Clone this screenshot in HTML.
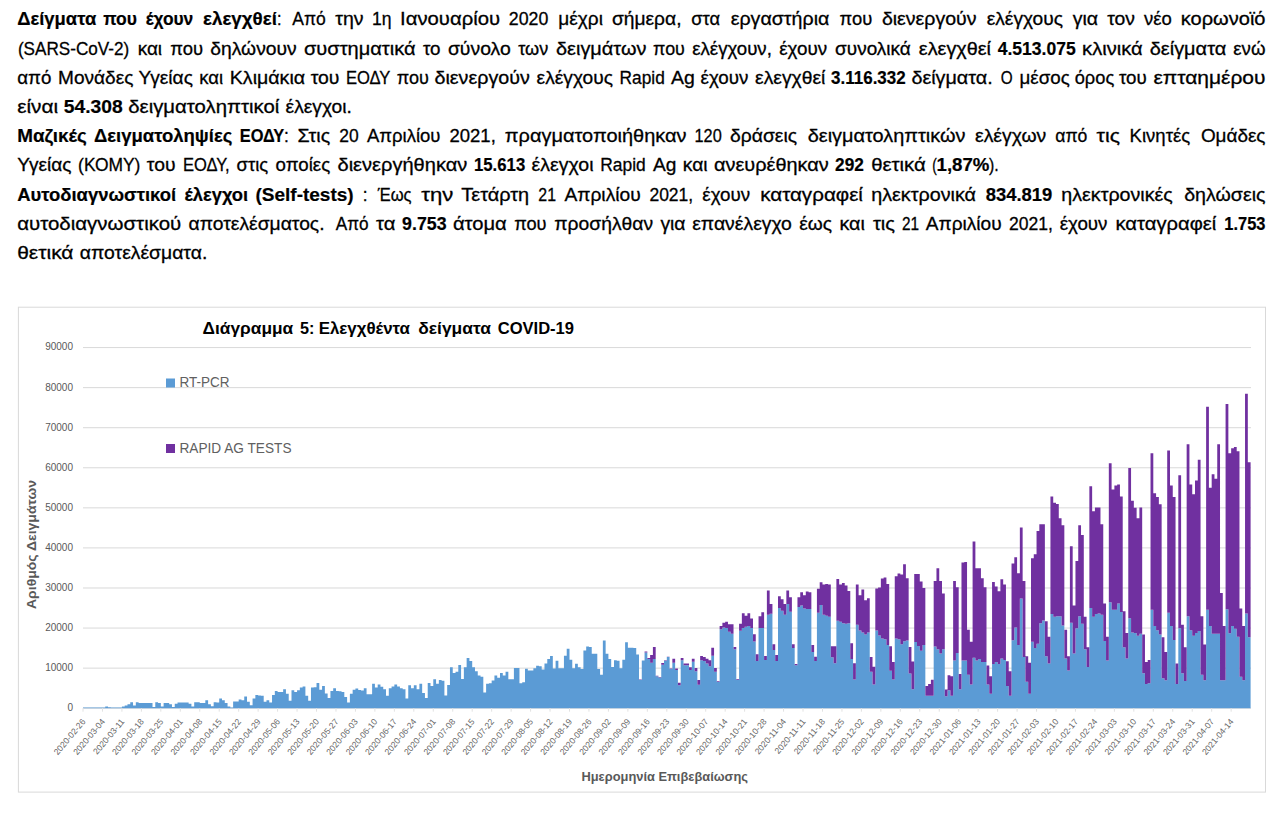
<!DOCTYPE html>
<html><head><meta charset="utf-8"><title>doc</title>
<style>
html,body{margin:0;padding:0;background:#fff;}
body{width:1285px;height:816px;position:relative;overflow:hidden;font-family:"Liberation Sans",sans-serif;color:#000;}
svg{position:absolute;left:0;top:0;}
svg text{font-family:"Liberation Sans",sans-serif;}
</style></head><body>
<svg width="1285" height="816" viewBox="0 0 1285 816">
<rect x="18.4" y="307.2" width="1247.1" height="484.9" fill="#fff" stroke="#d9d9d9" stroke-width="1"/>
<g stroke="#000" stroke-width="0.3" fill="#000">
<text x="17.2" y="25.4" font-size="19" font-weight="bold" stroke-width="0.2" textLength="79.1" lengthAdjust="spacingAndGlyphs">Δείγματα</text>
<text x="103.2" y="25.4" font-size="19" font-weight="bold" stroke-width="0.2" textLength="33.8" lengthAdjust="spacingAndGlyphs">που</text>
<text x="145.7" y="25.4" font-size="19" font-weight="bold" stroke-width="0.2" textLength="47.6" lengthAdjust="spacingAndGlyphs">έχουν</text>
<text x="203.0" y="25.4" font-size="19" font-weight="bold" stroke-width="0.2" textLength="73.9" lengthAdjust="spacingAndGlyphs">ελεγχθεί</text>
<text x="276.9" y="25.4" font-size="19" textLength="4.5" lengthAdjust="spacingAndGlyphs">:</text>
<text x="292.3" y="25.4" font-size="19" textLength="33.5" lengthAdjust="spacingAndGlyphs">Από</text>
<text x="335.2" y="25.4" font-size="19" textLength="28.3" lengthAdjust="spacingAndGlyphs">την</text>
<text x="372.0" y="25.4" font-size="19" textLength="19.5" lengthAdjust="spacingAndGlyphs">1η</text>
<text x="400.1" y="25.4" font-size="19" textLength="100.0" lengthAdjust="spacingAndGlyphs">Ιανουαρίου</text>
<text x="508.8" y="25.4" font-size="19" textLength="39.5" lengthAdjust="spacingAndGlyphs">2020</text>
<text x="558.3" y="25.4" font-size="19" textLength="44.6" lengthAdjust="spacingAndGlyphs">μέχρι</text>
<text x="611.9" y="25.4" font-size="19" textLength="69.6" lengthAdjust="spacingAndGlyphs">σήμερα,</text>
<text x="691.2" y="25.4" font-size="19" textLength="28.8" lengthAdjust="spacingAndGlyphs">στα</text>
<text x="730.7" y="25.4" font-size="19" textLength="98.7" lengthAdjust="spacingAndGlyphs">εργαστήρια</text>
<text x="839.5" y="25.4" font-size="19" textLength="32.7" lengthAdjust="spacingAndGlyphs">που</text>
<text x="881.9" y="25.4" font-size="19" textLength="94.7" lengthAdjust="spacingAndGlyphs">διενεργούν</text>
<text x="986.7" y="25.4" font-size="19" textLength="76.3" lengthAdjust="spacingAndGlyphs">ελέγχους</text>
<text x="1072.7" y="25.4" font-size="19" textLength="25.4" lengthAdjust="spacingAndGlyphs">για</text>
<text x="1107.2" y="25.4" font-size="19" textLength="27.8" lengthAdjust="spacingAndGlyphs">τον</text>
<text x="1144.0" y="25.4" font-size="19" textLength="27.8" lengthAdjust="spacingAndGlyphs">νέο</text>
<text x="1180.8" y="25.4" font-size="19" textLength="84.7" lengthAdjust="spacingAndGlyphs">κορωνοϊό</text>
<text x="17.9" y="54.6" font-size="19" textLength="111.4" lengthAdjust="spacingAndGlyphs">(SARS-CoV-2)</text>
<text x="137.7" y="54.6" font-size="19" textLength="24.4" lengthAdjust="spacingAndGlyphs">και</text>
<text x="170.2" y="54.6" font-size="19" textLength="32.8" lengthAdjust="spacingAndGlyphs">που</text>
<text x="210.3" y="54.6" font-size="19" textLength="86.4" lengthAdjust="spacingAndGlyphs">δηλώνουν</text>
<text x="304.0" y="54.6" font-size="19" textLength="111.5" lengthAdjust="spacingAndGlyphs">συστηματικά</text>
<text x="422.9" y="54.6" font-size="19" textLength="17.6" lengthAdjust="spacingAndGlyphs">το</text>
<text x="447.9" y="54.6" font-size="19" textLength="62.9" lengthAdjust="spacingAndGlyphs">σύνολο</text>
<text x="518.2" y="54.6" font-size="19" textLength="30.1" lengthAdjust="spacingAndGlyphs">των</text>
<text x="556.0" y="54.6" font-size="19" textLength="90.4" lengthAdjust="spacingAndGlyphs">δειγμάτων</text>
<text x="653.1" y="54.6" font-size="19" textLength="31.8" lengthAdjust="spacingAndGlyphs">που</text>
<text x="692.2" y="54.6" font-size="19" textLength="79.7" lengthAdjust="spacingAndGlyphs">ελέγχουν,</text>
<text x="779.2" y="54.6" font-size="19" textLength="47.9" lengthAdjust="spacingAndGlyphs">έχουν</text>
<text x="835.1" y="54.6" font-size="19" textLength="75.6" lengthAdjust="spacingAndGlyphs">συνολικά</text>
<text x="918.8" y="54.6" font-size="19" textLength="72.2" lengthAdjust="spacingAndGlyphs">ελεγχθεί</text>
<text x="997.7" y="54.6" font-size="19" font-weight="bold" stroke-width="0.2" textLength="78.0" lengthAdjust="spacingAndGlyphs">4.513.075</text>
<text x="1082.1" y="54.6" font-size="19" textLength="60.5" lengthAdjust="spacingAndGlyphs">κλινικά</text>
<text x="1149.7" y="54.6" font-size="19" textLength="76.6" lengthAdjust="spacingAndGlyphs">δείγματα</text>
<text x="1233.3" y="54.6" font-size="19" textLength="32.2" lengthAdjust="spacingAndGlyphs">ενώ</text>
<text x="17.2" y="83.8" font-size="19" textLength="34.2" lengthAdjust="spacingAndGlyphs">από</text>
<text x="58.1" y="83.8" font-size="19" textLength="75.3" lengthAdjust="spacingAndGlyphs">Μονάδες</text>
<text x="138.4" y="83.8" font-size="19" textLength="54.5" lengthAdjust="spacingAndGlyphs">Υγείας</text>
<text x="199.3" y="83.8" font-size="19" textLength="23.8" lengthAdjust="spacingAndGlyphs">και</text>
<text x="229.8" y="83.8" font-size="19" textLength="75.3" lengthAdjust="spacingAndGlyphs">Κλιμάκια</text>
<text x="310.7" y="83.8" font-size="19" textLength="28.8" lengthAdjust="spacingAndGlyphs">του</text>
<text x="345.9" y="83.8" font-size="19" textLength="44.5" lengthAdjust="spacingAndGlyphs">ΕΟΔΥ</text>
<text x="396.8" y="83.8" font-size="19" textLength="32.1" lengthAdjust="spacingAndGlyphs">που</text>
<text x="434.5" y="83.8" font-size="19" textLength="95.4" lengthAdjust="spacingAndGlyphs">διενεργούν</text>
<text x="536.6" y="83.8" font-size="19" textLength="76.3" lengthAdjust="spacingAndGlyphs">ελέγχους</text>
<text x="619.6" y="83.8" font-size="19" textLength="45.2" lengthAdjust="spacingAndGlyphs">Rapid</text>
<text x="671.1" y="83.8" font-size="19" textLength="23.8" lengthAdjust="spacingAndGlyphs">Ag</text>
<text x="700.6" y="83.8" font-size="19" textLength="47.8" lengthAdjust="spacingAndGlyphs">έχουν</text>
<text x="755.1" y="83.8" font-size="19" textLength="70.3" lengthAdjust="spacingAndGlyphs">ελεγχθεί</text>
<text x="831.1" y="83.8" font-size="19" font-weight="bold" stroke-width="0.2" textLength="74.6" lengthAdjust="spacingAndGlyphs">3.116.332</text>
<text x="911.4" y="83.8" font-size="19" textLength="81.3" lengthAdjust="spacingAndGlyphs">δείγματα.</text>
<text x="1000.8" y="83.8" font-size="19" textLength="11.9" lengthAdjust="spacingAndGlyphs">Ο</text>
<text x="1019.5" y="83.8" font-size="19" textLength="50.2" lengthAdjust="spacingAndGlyphs">μέσος</text>
<text x="1074.7" y="83.8" font-size="19" textLength="39.5" lengthAdjust="spacingAndGlyphs">όρος</text>
<text x="1118.9" y="83.8" font-size="19" textLength="27.8" lengthAdjust="spacingAndGlyphs">του</text>
<text x="1153.4" y="83.8" font-size="19" textLength="112.1" lengthAdjust="spacingAndGlyphs">επταημέρου</text>
<text x="17.2" y="113.0" font-size="19" textLength="40.9" lengthAdjust="spacingAndGlyphs">είναι</text>
<text x="63.8" y="113.0" font-size="19" font-weight="bold" stroke-width="0.2" textLength="58.9" lengthAdjust="spacingAndGlyphs">54.308</text>
<text x="128.3" y="113.0" font-size="19" textLength="151.0" lengthAdjust="spacingAndGlyphs">δειγματοληπτικοί</text>
<text x="285.6" y="113.0" font-size="19" textLength="66.3" lengthAdjust="spacingAndGlyphs">έλεγχοι.</text>
<text x="17.2" y="142.2" font-size="19" font-weight="bold" stroke-width="0.2" textLength="69.6" lengthAdjust="spacingAndGlyphs">Μαζικές</text>
<text x="93.9" y="142.2" font-size="19" font-weight="bold" stroke-width="0.2" textLength="138.5" lengthAdjust="spacingAndGlyphs">Δειγματοληψίες</text>
<text x="239.8" y="142.2" font-size="19" font-weight="bold" stroke-width="0.2" textLength="44.5" lengthAdjust="spacingAndGlyphs">ΕΟΔΥ</text>
<text x="284.1" y="142.2" font-size="19" textLength="4.8" lengthAdjust="spacingAndGlyphs">:</text>
<text x="297.4" y="142.2" font-size="19" textLength="32.8" lengthAdjust="spacingAndGlyphs">Στις</text>
<text x="339.2" y="142.2" font-size="19" textLength="19.4" lengthAdjust="spacingAndGlyphs">20</text>
<text x="367.0" y="142.2" font-size="19" textLength="73.5" lengthAdjust="spacingAndGlyphs">Απριλίου</text>
<text x="449.5" y="142.2" font-size="19" textLength="46.3" lengthAdjust="spacingAndGlyphs">2021,</text>
<text x="504.8" y="142.2" font-size="19" textLength="181.7" lengthAdjust="spacingAndGlyphs">πραγματοποιήθηκαν</text>
<text x="694.5" y="142.2" font-size="19" textLength="27.2" lengthAdjust="spacingAndGlyphs">120</text>
<text x="730.0" y="142.2" font-size="19" textLength="67.0" lengthAdjust="spacingAndGlyphs">δράσεις</text>
<text x="807.7" y="142.2" font-size="19" textLength="157.8" lengthAdjust="spacingAndGlyphs">δειγματοληπτικών</text>
<text x="975.0" y="142.2" font-size="19" textLength="71.3" lengthAdjust="spacingAndGlyphs">ελέγχων</text>
<text x="1055.3" y="142.2" font-size="19" textLength="32.1" lengthAdjust="spacingAndGlyphs">από</text>
<text x="1096.5" y="142.2" font-size="19" textLength="23.4" lengthAdjust="spacingAndGlyphs">τις</text>
<text x="1129.6" y="142.2" font-size="19" textLength="60.6" lengthAdjust="spacingAndGlyphs">Κινητές</text>
<text x="1200.9" y="142.2" font-size="19" textLength="64.6" lengthAdjust="spacingAndGlyphs">Ομάδες</text>
<text x="17.2" y="171.4" font-size="19" textLength="54.3" lengthAdjust="spacingAndGlyphs">Υγείας</text>
<text x="78.1" y="171.4" font-size="19" textLength="62.3" lengthAdjust="spacingAndGlyphs">(ΚΟΜΥ)</text>
<text x="146.8" y="171.4" font-size="19" textLength="28.7" lengthAdjust="spacingAndGlyphs">του</text>
<text x="182.9" y="171.4" font-size="19" textLength="46.8" lengthAdjust="spacingAndGlyphs">ΕΟΔΥ,</text>
<text x="236.5" y="171.4" font-size="19" textLength="31.7" lengthAdjust="spacingAndGlyphs">στις</text>
<text x="275.6" y="171.4" font-size="19" textLength="54.6" lengthAdjust="spacingAndGlyphs">οποίες</text>
<text x="337.5" y="171.4" font-size="19" textLength="129.8" lengthAdjust="spacingAndGlyphs">διενεργήθηκαν</text>
<text x="474.0" y="171.4" font-size="19" font-weight="bold" stroke-width="0.2" textLength="51.2" lengthAdjust="spacingAndGlyphs">15.613</text>
<text x="531.6" y="171.4" font-size="19" textLength="61.9" lengthAdjust="spacingAndGlyphs">έλεγχοι</text>
<text x="600.2" y="171.4" font-size="19" textLength="45.5" lengthAdjust="spacingAndGlyphs">Rapid</text>
<text x="653.1" y="171.4" font-size="19" textLength="23.4" lengthAdjust="spacingAndGlyphs">Ag</text>
<text x="682.8" y="171.4" font-size="19" textLength="24.8" lengthAdjust="spacingAndGlyphs">και</text>
<text x="714.0" y="171.4" font-size="19" textLength="114.8" lengthAdjust="spacingAndGlyphs">ανευρέθηκαν</text>
<text x="835.1" y="171.4" font-size="19" font-weight="bold" stroke-width="0.2" textLength="28.8" lengthAdjust="spacingAndGlyphs">292</text>
<text x="871.2" y="171.4" font-size="19" textLength="54.6" lengthAdjust="spacingAndGlyphs">θετικά</text>
<text x="932.2" y="171.4" font-size="19" textLength="4.5" lengthAdjust="spacingAndGlyphs">(</text>
<text x="936.5" y="171.4" font-size="19" font-weight="bold" stroke-width="0.2" textLength="52.9" lengthAdjust="spacingAndGlyphs">1,87%</text>
<text x="989.0" y="171.4" font-size="19" textLength="9.7" lengthAdjust="spacingAndGlyphs">).</text>
<text x="17.2" y="200.6" font-size="19" font-weight="bold" stroke-width="0.2" textLength="159.0" lengthAdjust="spacingAndGlyphs">Αυτοδιαγνωστικοί</text>
<text x="184.5" y="200.6" font-size="19" font-weight="bold" stroke-width="0.2" textLength="63.7" lengthAdjust="spacingAndGlyphs">έλεγχοι</text>
<text x="255.5" y="200.6" font-size="19" font-weight="bold" stroke-width="0.2" textLength="98.1" lengthAdjust="spacingAndGlyphs">(Self-tests)</text>
<text x="362.7" y="200.6" font-size="19" textLength="4.8" lengthAdjust="spacingAndGlyphs">:</text>
<text x="377.7" y="200.6" font-size="19" textLength="33.8" lengthAdjust="spacingAndGlyphs">Έως</text>
<text x="421.2" y="200.6" font-size="19" textLength="32.1" lengthAdjust="spacingAndGlyphs">την</text>
<text x="461.3" y="200.6" font-size="19" textLength="67.9" lengthAdjust="spacingAndGlyphs">Τετάρτη</text>
<text x="538.3" y="200.6" font-size="19" textLength="17.7" lengthAdjust="spacingAndGlyphs">21</text>
<text x="564.4" y="200.6" font-size="19" textLength="76.3" lengthAdjust="spacingAndGlyphs">Απριλίου</text>
<text x="649.4" y="200.6" font-size="19" textLength="43.8" lengthAdjust="spacingAndGlyphs">2021,</text>
<text x="702.3" y="200.6" font-size="19" textLength="47.8" lengthAdjust="spacingAndGlyphs">έχουν</text>
<text x="760.2" y="200.6" font-size="19" textLength="102.7" lengthAdjust="spacingAndGlyphs">καταγραφεί</text>
<text x="871.2" y="200.6" font-size="19" textLength="104.8" lengthAdjust="spacingAndGlyphs">ηλεκτρονικά</text>
<text x="985.7" y="200.6" font-size="19" font-weight="bold" stroke-width="0.2" textLength="66.6" lengthAdjust="spacingAndGlyphs">834.819</text>
<text x="1061.3" y="200.6" font-size="19" textLength="111.5" lengthAdjust="spacingAndGlyphs">ηλεκτρονικές</text>
<text x="1184.2" y="200.6" font-size="19" textLength="81.3" lengthAdjust="spacingAndGlyphs">δηλώσεις</text>
<text x="17.2" y="229.8" font-size="19" textLength="164.0" lengthAdjust="spacingAndGlyphs">αυτοδιαγνωστικού</text>
<text x="188.6" y="229.8" font-size="19" textLength="135.9" lengthAdjust="spacingAndGlyphs">αποτελέσματος.</text>
<text x="335.8" y="229.8" font-size="19" textLength="32.8" lengthAdjust="spacingAndGlyphs">Από</text>
<text x="376.0" y="229.8" font-size="19" textLength="19.4" lengthAdjust="spacingAndGlyphs">τα</text>
<text x="402.1" y="229.8" font-size="19" font-weight="bold" stroke-width="0.2" textLength="44.4" lengthAdjust="spacingAndGlyphs">9.753</text>
<text x="452.9" y="229.8" font-size="19" textLength="53.9" lengthAdjust="spacingAndGlyphs">άτομα</text>
<text x="514.2" y="229.8" font-size="19" textLength="32.4" lengthAdjust="spacingAndGlyphs">που</text>
<text x="554.3" y="229.8" font-size="19" textLength="98.8" lengthAdjust="spacingAndGlyphs">προσήλθαν</text>
<text x="660.4" y="229.8" font-size="19" textLength="25.1" lengthAdjust="spacingAndGlyphs">για</text>
<text x="692.2" y="229.8" font-size="19" textLength="99.7" lengthAdjust="spacingAndGlyphs">επανέλεγχο</text>
<text x="799.3" y="229.8" font-size="19" textLength="32.8" lengthAdjust="spacingAndGlyphs">έως</text>
<text x="839.5" y="229.8" font-size="19" textLength="25.4" lengthAdjust="spacingAndGlyphs">και</text>
<text x="872.9" y="229.8" font-size="19" textLength="22.1" lengthAdjust="spacingAndGlyphs">τις</text>
<text x="902.0" y="229.8" font-size="19" textLength="17.1" lengthAdjust="spacingAndGlyphs">21</text>
<text x="925.8" y="229.8" font-size="19" textLength="75.9" lengthAdjust="spacingAndGlyphs">Απριλίου</text>
<text x="1009.1" y="229.8" font-size="19" textLength="43.9" lengthAdjust="spacingAndGlyphs">2021,</text>
<text x="1059.7" y="229.8" font-size="19" textLength="47.8" lengthAdjust="spacingAndGlyphs">έχουν</text>
<text x="1115.5" y="229.8" font-size="19" textLength="100.8" lengthAdjust="spacingAndGlyphs">καταγραφεί</text>
<text x="1224.3" y="229.8" font-size="19" font-weight="bold" stroke-width="0.2" textLength="41.2" lengthAdjust="spacingAndGlyphs">1.753</text>
<text x="17.2" y="259.0" font-size="19" textLength="56.3" lengthAdjust="spacingAndGlyphs">θετικά</text>
<text x="79.8" y="259.0" font-size="19" textLength="127.5" lengthAdjust="spacingAndGlyphs">αποτελέσματα.</text>
</g>
<line x1="83" x2="1251" y1="708.20" y2="708.20" stroke="#d9d9d9" stroke-width="1"/>
<text x="73" y="711.10" font-size="10" fill="#595959" text-anchor="end">0</text>
<line x1="83" x2="1251" y1="668.13" y2="668.13" stroke="#d9d9d9" stroke-width="1"/>
<text x="73" y="671.03" font-size="10" fill="#595959" text-anchor="end">10000</text>
<line x1="83" x2="1251" y1="628.06" y2="628.06" stroke="#d9d9d9" stroke-width="1"/>
<text x="73" y="630.96" font-size="10" fill="#595959" text-anchor="end">20000</text>
<line x1="83" x2="1251" y1="587.99" y2="587.99" stroke="#d9d9d9" stroke-width="1"/>
<text x="73" y="590.89" font-size="10" fill="#595959" text-anchor="end">30000</text>
<line x1="83" x2="1251" y1="547.92" y2="547.92" stroke="#d9d9d9" stroke-width="1"/>
<text x="73" y="550.82" font-size="10" fill="#595959" text-anchor="end">40000</text>
<line x1="83" x2="1251" y1="507.85" y2="507.85" stroke="#d9d9d9" stroke-width="1"/>
<text x="73" y="510.75" font-size="10" fill="#595959" text-anchor="end">50000</text>
<line x1="83" x2="1251" y1="467.78" y2="467.78" stroke="#d9d9d9" stroke-width="1"/>
<text x="73" y="470.68" font-size="10" fill="#595959" text-anchor="end">60000</text>
<line x1="83" x2="1251" y1="427.71" y2="427.71" stroke="#d9d9d9" stroke-width="1"/>
<text x="73" y="430.61" font-size="10" fill="#595959" text-anchor="end">70000</text>
<line x1="83" x2="1251" y1="387.64" y2="387.64" stroke="#d9d9d9" stroke-width="1"/>
<text x="73" y="390.54" font-size="10" fill="#595959" text-anchor="end">80000</text>
<line x1="83" x2="1251" y1="347.57" y2="347.57" stroke="#d9d9d9" stroke-width="1"/>
<text x="73" y="350.47" font-size="10" fill="#595959" text-anchor="end">90000</text>
<text x="202.6" y="334.2" font-size="16" font-weight="bold" fill="#000" textLength="90.6" lengthAdjust="spacingAndGlyphs">Διάγραμμα</text>
<text x="300.0" y="334.2" font-size="16" font-weight="bold" fill="#000" textLength="14.4" lengthAdjust="spacingAndGlyphs">5:</text>
<text x="318.7" y="334.2" font-size="16" font-weight="bold" fill="#000" textLength="91.3" lengthAdjust="spacingAndGlyphs">Ελεγχθέντα</text>
<text x="418.3" y="334.2" font-size="16" font-weight="bold" fill="#000" textLength="72.6" lengthAdjust="spacingAndGlyphs">δείγματα</text>
<text x="497.7" y="334.2" font-size="16" font-weight="bold" fill="#000" textLength="76.3" lengthAdjust="spacingAndGlyphs">COVID-19</text>
<rect x="166" y="378.5" width="9" height="9" fill="#5b9bd5"/>
<text x="179.5" y="387.4" font-size="15" fill="#606060" textLength="50" lengthAdjust="spacingAndGlyphs">RT-PCR</text>
<rect x="166" y="444" width="9" height="9" fill="#7030a0"/>
<text x="179.5" y="452.8" font-size="15" fill="#606060" textLength="112" lengthAdjust="spacingAndGlyphs">RAPID AG TESTS</text>
<text transform="translate(35.5,544.5) rotate(-90)" font-size="12" font-weight="bold" fill="#595959" text-anchor="middle" textLength="129" lengthAdjust="spacingAndGlyphs">Αριθμός Δειγμάτων</text>
<text x="664.7" y="780.8" font-size="12" font-weight="bold" fill="#595959" text-anchor="middle" textLength="166.5" lengthAdjust="spacingAndGlyphs">Ημερομηνία Επιβεβαίωσης</text>
<path d="M83.00 708.20V707.60h2.78V708.20zM85.78 708.20V707.60h2.78V708.20zM88.56 708.20V707.60h2.78V708.20zM91.34 708.20V707.60h2.78V708.20zM94.12 708.20V707.60h2.78V708.20zM96.90 708.20V707.60h2.78V708.20zM99.68 708.20V707.60h2.78V708.20zM102.46 708.20V707.40h2.78V708.20zM105.24 708.20V706.60h2.78V708.20zM108.02 708.20V707.20h2.78V708.20zM110.80 708.20V707.60h2.78V708.20zM113.58 708.20V707.60h2.78V708.20zM116.36 708.20V707.60h2.78V708.20zM119.14 708.20V707.40h2.78V708.20zM121.92 708.20V706.60h2.78V708.20zM124.70 708.20V705.40h2.78V708.20zM127.48 708.20V704.19h2.78V708.20zM130.26 708.20V702.19h2.78V708.20zM133.04 708.20V705.40h2.78V708.20zM135.82 708.20V702.19h2.78V708.20zM138.60 708.20V702.99h2.78V708.20zM141.38 708.20V702.99h2.78V708.20zM144.16 708.20V702.99h2.78V708.20zM146.94 708.20V702.99h2.78V708.20zM149.72 708.20V702.99h2.78V708.20zM152.50 708.20V707.00h2.78V708.20zM155.28 708.20V702.19h2.78V708.20zM158.06 708.20V702.99h2.78V708.20zM160.84 708.20V706.60h2.78V708.20zM163.62 708.20V702.99h2.78V708.20zM166.40 708.20V702.99h2.78V708.20zM169.18 708.20V704.19h2.78V708.20zM171.96 708.20V707.00h2.78V708.20zM174.74 708.20V703.79h2.78V708.20zM177.52 708.20V702.59h2.78V708.20zM180.30 708.20V702.59h2.78V708.20zM183.08 708.20V702.59h2.78V708.20zM185.86 708.20V702.59h2.78V708.20zM188.64 708.20V703.79h2.78V708.20zM191.42 708.20V706.60h2.78V708.20zM194.20 708.20V702.19h2.78V708.20zM196.98 708.20V702.19h2.78V708.20zM199.76 708.20V702.99h2.78V708.20zM202.54 708.20V702.99h2.78V708.20zM205.32 708.20V700.19h2.78V708.20zM208.10 708.20V704.19h2.78V708.20zM210.88 708.20V706.20h2.78V708.20zM213.66 708.20V702.19h2.78V708.20zM216.44 708.20V702.39h2.78V708.20zM219.22 708.20V698.58h2.78V708.20zM222.00 708.20V700.19h2.78V708.20zM224.78 708.20V702.99h2.78V708.20zM227.56 708.20V706.40h2.78V708.20zM230.34 708.20V707.40h2.78V708.20zM233.12 708.20V701.39h2.78V708.20zM235.90 708.20V701.39h2.78V708.20zM238.68 708.20V699.38h2.78V708.20zM241.46 708.20V700.19h2.78V708.20zM244.24 708.20V696.58h2.78V708.20zM247.02 708.20V701.79h2.78V708.20zM249.80 708.20V705.19h2.78V708.20zM252.58 708.20V698.58h2.78V708.20zM255.36 708.20V694.98h2.78V708.20zM258.14 708.20V695.58h2.78V708.20zM260.92 708.20V695.78h2.78V708.20zM263.70 708.20V701.79h2.78V708.20zM266.48 708.20V700.19h2.78V708.20zM269.26 708.20V702.39h2.78V708.20zM272.04 708.20V694.98h2.78V708.20zM274.82 708.20V690.97h2.78V708.20zM277.60 708.20V691.97h2.78V708.20zM280.38 708.20V691.97h2.78V708.20zM283.16 708.20V689.37h2.78V708.20zM285.94 708.20V693.77h2.78V708.20zM288.72 708.20V700.79h2.78V708.20zM291.50 708.20V690.17h2.78V708.20zM294.28 708.20V691.97h2.78V708.20zM297.06 708.20V690.37h2.78V708.20zM299.84 708.20V687.56h2.78V708.20zM302.62 708.20V686.56h2.78V708.20zM305.40 708.20V695.78h2.78V708.20zM308.18 708.20V700.79h2.78V708.20zM310.96 708.20V687.56h2.78V708.20zM313.74 708.20V687.36h2.78V708.20zM316.52 708.20V682.96h2.78V708.20zM319.30 708.20V689.77h2.78V708.20zM322.08 708.20V685.96h2.78V708.20zM324.86 708.20V693.57h2.78V708.20zM327.64 708.20V697.98h2.78V708.20zM330.42 708.20V690.97h2.78V708.20zM333.20 708.20V688.17h2.78V708.20zM335.98 708.20V690.97h2.78V708.20zM338.76 708.20V691.17h2.78V708.20zM341.54 708.20V691.97h2.78V708.20zM344.32 708.20V696.98h2.78V708.20zM347.10 708.20V702.39h2.78V708.20zM349.88 708.20V693.77h2.78V708.20zM352.66 708.20V689.77h2.78V708.20zM355.44 708.20V688.57h2.78V708.20zM358.22 708.20V689.97h2.78V708.20zM361.00 708.20V690.57h2.78V708.20zM363.78 708.20V688.17h2.78V708.20zM366.56 708.20V694.18h2.78V708.20zM369.34 708.20V694.18h2.78V708.20zM372.12 708.20V683.76h2.78V708.20zM374.90 708.20V687.56h2.78V708.20zM377.68 708.20V684.56h2.78V708.20zM380.46 708.20V686.76h2.78V708.20zM383.24 708.20V689.37h2.78V708.20zM386.02 708.20V695.78h2.78V708.20zM388.80 708.20V688.17h2.78V708.20zM391.58 708.20V686.56h2.78V708.20zM394.36 708.20V684.56h2.78V708.20zM397.14 708.20V686.56h2.78V708.20zM399.92 708.20V688.17h2.78V708.20zM402.70 708.20V689.37h2.78V708.20zM405.48 708.20V698.58h2.78V708.20zM408.26 708.20V685.36h2.78V708.20zM411.04 708.20V688.17h2.78V708.20zM413.82 708.20V685.36h2.78V708.20zM416.60 708.20V689.37h2.78V708.20zM419.38 708.20V683.76h2.78V708.20zM422.16 708.20V692.97h2.78V708.20zM424.94 708.20V697.98h2.78V708.20zM427.72 708.20V682.96h2.78V708.20zM430.50 708.20V685.96h2.78V708.20zM433.28 708.20V679.15h2.78V708.20zM436.06 708.20V683.76h2.78V708.20zM438.84 708.20V679.95h2.78V708.20zM441.62 708.20V680.75h2.78V708.20zM444.40 708.20V695.38h2.78V708.20zM447.18 708.20V684.96h2.78V708.20zM449.96 708.20V667.13h2.78V708.20zM452.74 708.20V672.94h2.78V708.20zM455.52 708.20V671.74h2.78V708.20zM458.30 708.20V665.12h2.78V708.20zM461.08 708.20V678.95h2.78V708.20zM463.86 708.20V667.33h2.78V708.20zM466.64 708.20V658.11h2.78V708.20zM469.42 708.20V660.92h2.78V708.20zM472.20 708.20V667.33h2.78V708.20zM474.98 708.20V671.14h2.78V708.20zM477.76 708.20V675.54h2.78V708.20zM480.54 708.20V676.75h2.78V708.20zM483.32 708.20V692.57h2.78V708.20zM486.10 708.20V683.76h2.78V708.20zM488.88 708.20V683.36h2.78V708.20zM491.66 708.20V680.55h2.78V708.20zM494.44 708.20V675.54h2.78V708.20zM497.22 708.20V677.75h2.78V708.20zM500.00 708.20V672.94h2.78V708.20zM502.78 708.20V675.54h2.78V708.20zM505.56 708.20V671.74h2.78V708.20zM508.34 708.20V679.35h2.78V708.20zM511.12 708.20V679.35h2.78V708.20zM513.90 708.20V667.93h2.78V708.20zM516.68 708.20V667.93h2.78V708.20zM519.46 708.20V683.36h2.78V708.20zM522.24 708.20V682.35h2.78V708.20zM525.02 708.20V668.73h2.78V708.20zM527.80 708.20V670.53h2.78V708.20zM530.58 708.20V670.53h2.78V708.20zM533.36 708.20V668.13h2.78V708.20zM536.14 708.20V665.73h2.78V708.20zM538.92 708.20V666.33h2.78V708.20zM541.70 708.20V669.53h2.78V708.20zM544.48 708.20V663.52h2.78V708.20zM547.26 708.20V659.11h2.78V708.20zM550.04 708.20V656.11h2.78V708.20zM552.82 708.20V668.53h2.78V708.20zM555.60 708.20V660.72h2.78V708.20zM558.38 708.20V668.13h2.78V708.20zM561.16 708.20V668.13h2.78V708.20zM563.94 708.20V655.71h2.78V708.20zM566.72 708.20V648.70h2.78V708.20zM569.50 708.20V659.72h2.78V708.20zM572.28 708.20V668.13h2.78V708.20zM575.06 708.20V663.72h2.78V708.20zM577.84 708.20V667.33h2.78V708.20zM580.62 708.20V668.93h2.78V708.20zM583.40 708.20V650.50h2.78V708.20zM586.18 708.20V646.49h2.78V708.20zM588.96 708.20V647.09h2.78V708.20zM591.74 708.20V653.70h2.78V708.20zM594.52 708.20V653.70h2.78V708.20zM597.30 708.20V668.93h2.78V708.20zM600.08 708.20V674.74h2.78V708.20zM602.86 708.20V640.48h2.78V708.20zM605.64 708.20V653.70h2.78V708.20zM608.42 708.20V659.11h2.78V708.20zM611.20 708.20V666.93h2.78V708.20zM613.98 708.20V660.32h2.78V708.20zM616.76 708.20V660.72h2.78V708.20zM619.54 708.20V668.13h2.78V708.20zM622.32 708.20V659.72h2.78V708.20zM625.10 708.20V642.28h2.78V708.20zM627.88 708.20V647.69h2.78V708.20zM630.66 708.20V647.69h2.78V708.20zM633.44 708.20V648.10h2.78V708.20zM636.22 708.20V654.51h2.78V708.20zM639.00 708.20V679.95h2.78V708.20zM641.78 708.20V660.52h2.78V708.20zM644.56 708.20V652.50h2.78V708.20zM647.34 708.20V658.91h2.78V708.20zM650.12 708.20V662.72h2.78V708.20zM652.90 708.20V658.91h2.78V708.20zM655.68 708.20V676.34h2.78V708.20zM658.46 708.20V677.55h2.78V708.20zM661.24 708.20V664.72h2.78V708.20zM664.02 708.20V660.72h2.78V708.20zM666.80 708.20V657.11h2.78V708.20zM669.58 708.20V668.93h2.78V708.20zM672.36 708.20V662.72h2.78V708.20zM675.14 708.20V669.93h2.78V708.20zM677.92 708.20V685.36h2.78V708.20zM680.70 708.20V660.32h2.78V708.20zM683.48 708.20V665.33h2.78V708.20zM686.26 708.20V665.33h2.78V708.20zM689.04 708.20V669.93h2.78V708.20zM691.82 708.20V661.72h2.78V708.20zM694.60 708.20V671.14h2.78V708.20zM697.38 708.20V684.76h2.78V708.20zM700.16 708.20V660.32h2.78V708.20zM702.94 708.20V660.92h2.78V708.20zM705.72 708.20V663.52h2.78V708.20zM708.50 708.20V666.13h2.78V708.20zM711.28 708.20V655.71h2.78V708.20zM714.06 708.20V671.74h2.78V708.20zM716.84 708.20V681.95h2.78V708.20zM719.62 708.20V629.26h2.78V708.20zM722.40 708.20V627.46h2.78V708.20zM725.18 708.20V628.06h2.78V708.20zM727.96 708.20V631.87h2.78V708.20zM730.74 708.20V633.87h2.78V708.20zM733.52 708.20V649.30h2.78V708.20zM736.30 708.20V679.75h2.78V708.20zM739.08 708.20V630.66h2.78V708.20zM741.86 708.20V628.06h2.78V708.20zM744.64 708.20V626.86h2.78V708.20zM747.42 708.20V626.06h2.78V708.20zM750.20 708.20V628.06h2.78V708.20zM752.98 708.20V641.48h2.78V708.20zM755.76 708.20V660.92h2.78V708.20zM758.54 708.20V628.06h2.78V708.20zM761.32 708.20V628.06h2.78V708.20zM764.10 708.20V659.92h2.78V708.20zM766.88 708.20V614.84h2.78V708.20zM769.66 708.20V613.84h2.78V708.20zM772.44 708.20V650.10h2.78V708.20zM775.22 708.20V660.92h2.78V708.20zM778.00 708.20V608.03h2.78V708.20zM780.78 708.20V610.83h2.78V708.20zM783.56 708.20V614.84h2.78V708.20zM786.34 708.20V604.02h2.78V708.20zM789.12 708.20V611.83h2.78V708.20zM791.90 708.20V648.10h2.78V708.20zM794.68 708.20V665.33h2.78V708.20zM797.46 708.20V607.02h2.78V708.20zM800.24 708.20V605.62h2.78V708.20zM803.02 708.20V608.43h2.78V708.20zM805.80 708.20V609.03h2.78V708.20zM808.58 708.20V609.03h2.78V708.20zM811.36 708.20V652.10h2.78V708.20zM814.14 708.20V660.92h2.78V708.20zM816.92 708.20V612.83h2.78V708.20zM819.70 708.20V605.02h2.78V708.20zM822.48 708.20V614.84h2.78V708.20zM825.26 708.20V615.84h2.78V708.20zM828.04 708.20V616.84h2.78V708.20zM830.82 708.20V657.31h2.78V708.20zM833.60 708.20V663.32h2.78V708.20zM836.38 708.20V620.65h2.78V708.20zM839.16 708.20V621.65h2.78V708.20zM841.94 708.20V623.25h2.78V708.20zM844.72 708.20V623.65h2.78V708.20zM847.50 708.20V623.25h2.78V708.20zM850.28 708.20V658.91h2.78V708.20zM853.06 708.20V679.55h2.78V708.20zM855.84 708.20V624.65h2.78V708.20zM858.62 708.20V630.46h2.78V708.20zM861.40 708.20V632.47h2.78V708.20zM864.18 708.20V634.47h2.78V708.20zM866.96 708.20V632.47h2.78V708.20zM869.74 708.20V671.74h2.78V708.20zM872.52 708.20V684.56h2.78V708.20zM875.30 708.20V630.46h2.78V708.20zM878.08 708.20V635.47h2.78V708.20zM880.86 708.20V638.48h2.78V708.20zM883.64 708.20V639.28h2.78V708.20zM886.42 708.20V644.89h2.78V708.20zM889.20 708.20V670.73h2.78V708.20zM891.98 708.20V679.55h2.78V708.20zM894.76 708.20V638.48h2.78V708.20zM897.54 708.20V639.28h2.78V708.20zM900.32 708.20V644.29h2.78V708.20zM903.10 708.20V641.28h2.78V708.20zM905.88 708.20V640.48h2.78V708.20zM908.66 708.20V673.54h2.78V708.20zM911.44 708.20V689.17h2.78V708.20zM914.22 708.20V642.08h2.78V708.20zM917.00 708.20V645.89h2.78V708.20zM919.78 708.20V650.70h2.78V708.20zM922.56 708.20V645.09h2.78V708.20zM925.34 708.20V695.78h2.78V708.20zM928.12 708.20V695.78h2.78V708.20zM930.90 708.20V695.78h2.78V708.20zM933.68 708.20V646.49h2.78V708.20zM936.46 708.20V649.30h2.78V708.20zM939.24 708.20V653.50h2.78V708.20zM942.02 708.20V649.30h2.78V708.20zM944.80 708.20V696.18h2.78V708.20zM947.58 708.20V690.17h2.78V708.20zM950.36 708.20V695.78h2.78V708.20zM953.14 708.20V660.52h2.78V708.20zM955.92 708.20V652.90h2.78V708.20zM958.70 708.20V689.17h2.78V708.20zM961.48 708.20V660.52h2.78V708.20zM964.26 708.20V660.52h2.78V708.20zM967.04 708.20V674.74h2.78V708.20zM969.82 708.20V684.56h2.78V708.20zM972.60 708.20V657.71h2.78V708.20zM975.38 708.20V660.52h2.78V708.20zM978.16 708.20V659.11h2.78V708.20zM980.94 708.20V662.12h2.78V708.20zM983.72 708.20V662.12h2.78V708.20zM986.50 708.20V684.56h2.78V708.20zM989.28 708.20V693.77h2.78V708.20zM992.06 708.20V664.12h2.78V708.20zM994.84 708.20V662.12h2.78V708.20zM997.62 708.20V664.12h2.78V708.20zM1000.40 708.20V658.51h2.78V708.20zM1003.18 708.20V659.92h2.78V708.20zM1005.96 708.20V685.96h2.78V708.20zM1008.74 708.20V695.78h2.78V708.20zM1011.52 708.20V640.28h2.78V708.20zM1014.30 708.20V627.46h2.78V708.20zM1017.08 708.20V645.09h2.78V708.20zM1019.86 708.20V598.61h2.78V708.20zM1022.64 708.20V657.11h2.78V708.20zM1025.42 708.20V681.75h2.78V708.20zM1028.20 708.20V693.77h2.78V708.20zM1030.98 708.20V641.68h2.78V708.20zM1033.76 708.20V647.89h2.78V708.20zM1036.54 708.20V643.69h2.78V708.20zM1039.32 708.20V623.25h2.78V708.20zM1042.10 708.20V620.45h2.78V708.20zM1044.88 708.20V656.31h2.78V708.20zM1047.66 708.20V663.52h2.78V708.20zM1050.44 708.20V614.04h2.78V708.20zM1053.22 708.20V616.84h2.78V708.20zM1056.00 708.20V616.24h2.78V708.20zM1058.78 708.20V616.24h2.78V708.20zM1061.56 708.20V625.46h2.78V708.20zM1064.34 708.20V658.51h2.78V708.20zM1067.12 708.20V670.53h2.78V708.20zM1069.90 708.20V622.65h2.78V708.20zM1072.68 708.20V653.50h2.78V708.20zM1075.46 708.20V628.26h2.78V708.20zM1078.24 708.20V616.24h2.78V708.20zM1081.02 708.20V623.65h2.78V708.20zM1083.80 708.20V649.30h2.78V708.20zM1086.58 708.20V666.93h2.78V708.20zM1089.36 708.20V608.03h2.78V708.20zM1092.14 708.20V616.84h2.78V708.20zM1094.92 708.20V614.04h2.78V708.20zM1097.70 708.20V613.43h2.78V708.20zM1100.48 708.20V614.84h2.78V708.20zM1103.26 708.20V640.88h2.78V708.20zM1106.04 708.20V660.52h2.78V708.20zM1108.82 708.20V602.21h2.78V708.20zM1111.60 708.20V609.83h2.78V708.20zM1114.38 708.20V609.83h2.78V708.20zM1117.16 708.20V603.62h2.78V708.20zM1119.94 708.20V612.03h2.78V708.20zM1122.72 708.20V647.29h2.78V708.20zM1125.50 708.20V658.51h2.78V708.20zM1128.28 708.20V618.24h2.78V708.20zM1131.06 708.20V632.47h2.78V708.20zM1133.84 708.20V633.07h2.78V708.20zM1136.62 708.20V635.87h2.78V708.20zM1139.40 708.20V633.87h2.78V708.20zM1142.18 708.20V673.34h2.78V708.20zM1144.96 708.20V683.96h2.78V708.20zM1147.74 708.20V683.16h2.78V708.20zM1150.52 708.20V609.63h2.78V708.20zM1153.30 708.20V626.06h2.78V708.20zM1156.08 708.20V630.26h2.78V708.20zM1158.86 708.20V634.47h2.78V708.20zM1161.64 708.20V678.15h2.78V708.20zM1164.42 708.20V680.35h2.78V708.20zM1167.20 708.20V612.63h2.78V708.20zM1169.98 708.20V626.06h2.78V708.20zM1172.76 708.20V640.08h2.78V708.20zM1175.54 708.20V683.96h2.78V708.20zM1178.32 708.20V628.26h2.78V708.20zM1181.10 708.20V673.34h2.78V708.20zM1183.88 708.20V680.95h2.78V708.20zM1186.66 708.20V616.24h2.78V708.20zM1189.44 708.20V630.26h2.78V708.20zM1192.22 708.20V635.87h2.78V708.20zM1195.00 708.20V633.07h2.78V708.20zM1197.78 708.20V631.07h2.78V708.20zM1200.56 708.20V674.74h2.78V708.20zM1203.34 708.20V680.35h2.78V708.20zM1206.12 708.20V609.63h2.78V708.20zM1208.90 708.20V626.06h2.78V708.20zM1211.68 708.20V633.87h2.78V708.20zM1214.46 708.20V633.87h2.78V708.20zM1217.24 708.20V633.87h2.78V708.20zM1220.02 708.20V680.35h2.78V708.20zM1222.80 708.20V680.35h2.78V708.20zM1225.58 708.20V609.23h2.78V708.20zM1228.36 708.20V633.27h2.78V708.20zM1231.14 708.20V626.06h2.78V708.20zM1233.92 708.20V628.86h2.78V708.20zM1236.70 708.20V636.68h2.78V708.20zM1239.48 708.20V676.75h2.78V708.20zM1242.26 708.20V680.35h2.78V708.20zM1245.04 708.20V613.43h2.78V708.20zM1247.82 708.20V637.28h2.78V708.20z" fill="#5b9bd5"/>
<path d="M639.00 679.95V679.55h2.78V679.95zM644.56 652.50V651.50h2.78V652.50zM647.34 658.91V657.91h2.78V658.91zM650.12 662.72V655.11h2.78V662.72zM652.90 658.91V646.89h2.78V658.91zM655.68 676.34V675.74h2.78V676.34zM658.46 677.55V676.95h2.78V677.55zM661.24 664.72V663.12h2.78V664.72zM664.02 660.72V660.32h2.78V660.72zM666.80 657.11V656.71h2.78V657.11zM669.58 668.93V668.53h2.78V668.93zM672.36 662.72V658.71h2.78V662.72zM675.14 669.93V668.53h2.78V669.93zM677.92 685.36V682.76h2.78V685.36zM680.70 660.32V657.91h2.78V660.32zM683.48 665.33V663.52h2.78V665.33zM686.26 665.33V663.52h2.78V665.33zM689.04 669.93V667.13h2.78V669.93zM691.82 661.72V658.71h2.78V661.72zM694.60 671.14V667.93h2.78V671.14zM697.38 684.76V679.95h2.78V684.76zM700.16 660.32V656.11h2.78V660.32zM702.94 660.92V657.11h2.78V660.92zM705.72 663.52V658.71h2.78V663.52zM708.50 666.13V660.32h2.78V666.13zM711.28 655.71V647.69h2.78V655.71zM714.06 671.74V667.93h2.78V671.74zM716.84 681.95V681.15h2.78V681.95zM719.62 629.26V626.06h2.78V629.26zM722.40 627.46V622.85h2.78V627.46zM725.18 628.06V621.65h2.78V628.06zM727.96 631.87V624.25h2.78V631.87zM730.74 633.87V624.25h2.78V633.87zM733.52 649.30V647.09h2.78V649.30zM736.30 679.75V678.95h2.78V679.75zM739.08 630.66V623.65h2.78V630.66zM741.86 628.06V613.23h2.78V628.06zM744.64 626.86V615.84h2.78V626.86zM747.42 626.06V613.23h2.78V626.06zM750.20 628.06V618.44h2.78V628.06zM752.98 641.48V634.27h2.78V641.48zM755.76 660.92V654.31h2.78V660.92zM758.54 628.06V616.24h2.78V628.06zM761.32 628.06V612.23h2.78V628.06zM764.10 659.92V656.11h2.78V659.92zM766.88 614.84V590.39h2.78V614.84zM769.66 613.84V604.02h2.78V613.84zM772.44 650.10V644.29h2.78V650.10zM775.22 660.92V655.11h2.78V660.92zM778.00 608.03V596.20h2.78V608.03zM780.78 610.83V599.21h2.78V610.83zM783.56 614.84V604.02h2.78V614.84zM786.34 604.02V590.39h2.78V604.02zM789.12 611.83V597.21h2.78V611.83zM791.90 648.10V644.29h2.78V648.10zM794.68 665.33V663.92h2.78V665.33zM797.46 607.02V597.21h2.78V607.02zM800.24 605.62V592.20h2.78V605.62zM803.02 608.43V595.20h2.78V608.43zM805.80 609.03V591.40h2.78V609.03zM808.58 609.03V592.20h2.78V609.03zM811.36 652.10V644.89h2.78V652.10zM814.14 660.92V656.71h2.78V660.92zM816.92 612.83V588.79h2.78V612.83zM819.70 605.02V582.18h2.78V605.02zM822.48 614.84V584.38h2.78V614.84zM825.26 615.84V583.98h2.78V615.84zM828.04 616.84V584.38h2.78V616.84zM830.82 657.31V646.29h2.78V657.31zM833.60 663.32V646.29h2.78V663.32zM836.38 620.65V578.97h2.78V620.65zM839.16 621.65V584.38h2.78V621.65zM841.94 623.25V582.98h2.78V623.25zM844.72 623.65V585.39h2.78V623.65zM847.50 623.25V591.00h2.78V623.25zM850.28 658.91V643.29h2.78V658.91zM853.06 679.55V663.32h2.78V679.55zM855.84 624.65V584.38h2.78V624.65zM858.62 630.46V595.20h2.78V630.46zM861.40 632.47V589.39h2.78V632.47zM864.18 634.47V600.21h2.78V634.47zM866.96 632.47V598.21h2.78V632.47zM869.74 671.74V656.91h2.78V671.74zM872.52 684.56V666.73h2.78V684.56zM875.30 630.46V588.39h2.78V630.46zM878.08 635.47V587.39h2.78V635.47zM880.86 638.48V578.57h2.78V638.48zM883.64 639.28V577.57h2.78V639.28zM886.42 644.89V583.98h2.78V644.89zM889.20 670.73V646.29h2.78V670.73zM891.98 679.55V661.92h2.78V679.55zM894.76 638.48V576.17h2.78V638.48zM897.54 639.28V573.56h2.78V639.28zM900.32 644.29V574.57h2.78V644.29zM903.10 641.28V564.35h2.78V641.28zM905.88 640.48V578.17h2.78V640.48zM908.66 673.54V646.89h2.78V673.54zM911.44 689.17V661.52h2.78V689.17zM914.22 642.08V573.97h2.78V642.08zM917.00 645.89V573.97h2.78V645.89zM919.78 650.70V581.58h2.78V650.70zM922.56 645.09V587.99h2.78V645.09zM925.34 695.78V685.96h2.78V695.78zM928.12 695.78V683.96h2.78V695.78zM930.90 695.78V679.75h2.78V695.78zM933.68 646.49V580.98h2.78V646.49zM936.46 649.30V568.36h2.78V649.30zM939.24 653.50V580.98h2.78V653.50zM942.02 649.30V593.60h2.78V649.30zM944.80 696.18V689.57h2.78V696.18zM947.58 690.17V675.34h2.78V690.17zM950.36 695.78V676.14h2.78V695.78zM953.14 660.52V580.98h2.78V660.52zM955.92 652.90V587.19h2.78V652.90zM958.70 689.17V673.94h2.78V689.17zM961.48 660.52V562.55h2.78V660.52zM964.26 660.52V561.94h2.78V660.52zM967.04 674.74V629.66h2.78V674.74zM969.82 684.56V641.68h2.78V684.56zM972.60 657.71V541.51h2.78V657.71zM975.38 660.52V568.36h2.78V660.52zM978.16 659.11V568.36h2.78V659.11zM980.94 662.12V578.17h2.78V662.12zM983.72 662.12V587.19h2.78V662.12zM986.50 684.56V665.53h2.78V684.56zM989.28 693.77V676.14h2.78V693.77zM992.06 664.12V581.98h2.78V664.12zM994.84 662.12V586.59h2.78V662.12zM997.62 664.12V591.20h2.78V664.12zM1000.40 658.51V579.17h2.78V658.51zM1003.18 659.92V584.38h2.78V659.92zM1005.96 685.96V661.32h2.78V685.96zM1008.74 695.78V671.14h2.78V695.78zM1011.52 640.28V563.55h2.78V640.28zM1014.30 627.46V557.34h2.78V627.46zM1017.08 645.09V573.16h2.78V645.09zM1019.86 598.61V527.48h2.78V598.61zM1022.64 657.11V580.98h2.78V657.11zM1025.42 681.75V656.31h2.78V681.75zM1028.20 693.77V662.72h2.78V693.77zM1030.98 641.68V558.34h2.78V641.68zM1033.76 647.89V554.13h2.78V647.89zM1036.54 643.69V530.89h2.78V643.69zM1039.32 623.25V524.28h2.78V623.25zM1042.10 620.45V524.28h2.78V620.45zM1044.88 656.31V621.25h2.78V656.31zM1047.66 663.52V636.68h2.78V663.52zM1050.44 614.04V496.43h2.78V614.04zM1053.22 616.84V502.64h2.78V616.84zM1056.00 616.24V504.04h2.78V616.24zM1058.78 616.24V518.27h2.78V616.24zM1061.56 625.46V525.28h2.78V625.46zM1064.34 658.51V629.66h2.78V658.51zM1067.12 670.53V656.31h2.78V670.53zM1069.90 622.65V546.32h2.78V622.65zM1072.68 653.50V605.62h2.78V653.50zM1075.46 628.26V560.94h2.78V628.26zM1078.24 616.24V525.28h2.78V616.24zM1081.02 623.65V535.10h2.78V623.65zM1083.80 649.30V616.64h2.78V649.30zM1086.58 666.93V647.29h2.78V666.93zM1089.36 608.03V486.21h2.78V608.03zM1092.14 616.84V511.26h2.78V616.84zM1094.92 614.04V507.45h2.78V614.04zM1097.70 613.43V507.45h2.78V613.43zM1100.48 614.84V524.28h2.78V614.84zM1103.26 640.88V603.62h2.78V640.88zM1106.04 660.52V636.68h2.78V660.52zM1108.82 602.21V463.17h2.78V602.21zM1111.60 609.83V489.62h2.78V609.83zM1114.38 609.83V485.41h2.78V609.83zM1117.16 603.62V484.41h2.78V603.62zM1119.94 612.03V496.43h2.78V612.03zM1122.72 647.29V611.23h2.78V647.29zM1125.50 658.51V633.07h2.78V658.51zM1128.28 618.24V467.98h2.78V618.24zM1131.06 632.47V500.64h2.78V632.47zM1133.84 633.07V507.65h2.78V633.07zM1136.62 635.87V518.27h2.78V635.87zM1139.40 633.87V507.45h2.78V633.87zM1142.18 673.34V634.47h2.78V673.34zM1144.96 683.96V662.12h2.78V683.96zM1147.74 683.16V659.92h2.78V683.16zM1150.52 609.63V453.35h2.78V609.63zM1153.30 626.06V493.22h2.78V626.06zM1156.08 630.26V497.03h2.78V630.26zM1158.86 634.47V504.24h2.78V634.47zM1161.64 678.15V637.28h2.78V678.15zM1164.42 680.35V652.10h2.78V680.35zM1167.20 612.63V450.55h2.78V612.63zM1169.98 626.06V485.41h2.78V626.06zM1172.76 640.08V497.03h2.78V640.08zM1175.54 683.96V663.52h2.78V683.96zM1178.32 628.26V475.19h2.78V628.26zM1181.10 673.34V624.65h2.78V673.34zM1183.88 680.95V647.29h2.78V680.95zM1186.66 616.24V444.14h2.78V616.24zM1189.44 630.26V484.41h2.78V630.26zM1192.22 635.87V494.23h2.78V635.87zM1195.00 633.07V480.60h2.78V633.07zM1197.78 631.07V459.77h2.78V631.07zM1200.56 674.74V616.24h2.78V674.74zM1203.34 680.35V644.49h2.78V680.35zM1206.12 609.63V406.87h2.78V609.63zM1208.90 626.06V487.82h2.78V626.06zM1211.68 633.87V474.19h2.78V633.87zM1214.46 633.87V478.80h2.78V633.87zM1217.24 633.87V444.14h2.78V633.87zM1220.02 680.35V593.00h2.78V680.35zM1222.80 680.35V626.06h2.78V680.35zM1225.58 609.23V404.07h2.78V609.23zM1228.36 633.27V453.35h2.78V633.27zM1231.14 626.06V448.15h2.78V626.06zM1233.92 628.86V446.94h2.78V628.86zM1236.70 636.68V451.35h2.78V636.68zM1239.48 676.75V608.43h2.78V676.75zM1242.26 680.35V626.06h2.78V680.35zM1245.04 613.43V393.65h2.78V613.43zM1247.82 637.28V462.17h2.78V637.28z" fill="#7030a0"/>
<line x1="83.00" x2="83.00" y1="708.20" y2="711.70" stroke="#e2e2e2" stroke-width="1"/>
<text transform="translate(86.00,721.90) rotate(-50)" font-size="8.6" fill="#666" text-anchor="end">2020-02-26</text>
<line x1="102.46" x2="102.46" y1="708.20" y2="711.70" stroke="#e2e2e2" stroke-width="1"/>
<text transform="translate(105.46,721.90) rotate(-50)" font-size="8.6" fill="#666" text-anchor="end">2020-03-04</text>
<line x1="121.92" x2="121.92" y1="708.20" y2="711.70" stroke="#e2e2e2" stroke-width="1"/>
<text transform="translate(124.92,721.90) rotate(-50)" font-size="8.6" fill="#666" text-anchor="end">2020-03-11</text>
<line x1="141.38" x2="141.38" y1="708.20" y2="711.70" stroke="#e2e2e2" stroke-width="1"/>
<text transform="translate(144.38,721.90) rotate(-50)" font-size="8.6" fill="#666" text-anchor="end">2020-03-18</text>
<line x1="160.84" x2="160.84" y1="708.20" y2="711.70" stroke="#e2e2e2" stroke-width="1"/>
<text transform="translate(163.84,721.90) rotate(-50)" font-size="8.6" fill="#666" text-anchor="end">2020-03-25</text>
<line x1="180.30" x2="180.30" y1="708.20" y2="711.70" stroke="#e2e2e2" stroke-width="1"/>
<text transform="translate(183.30,721.90) rotate(-50)" font-size="8.6" fill="#666" text-anchor="end">2020-04-01</text>
<line x1="199.76" x2="199.76" y1="708.20" y2="711.70" stroke="#e2e2e2" stroke-width="1"/>
<text transform="translate(202.76,721.90) rotate(-50)" font-size="8.6" fill="#666" text-anchor="end">2020-04-08</text>
<line x1="219.22" x2="219.22" y1="708.20" y2="711.70" stroke="#e2e2e2" stroke-width="1"/>
<text transform="translate(222.22,721.90) rotate(-50)" font-size="8.6" fill="#666" text-anchor="end">2020-04-15</text>
<line x1="238.68" x2="238.68" y1="708.20" y2="711.70" stroke="#e2e2e2" stroke-width="1"/>
<text transform="translate(241.68,721.90) rotate(-50)" font-size="8.6" fill="#666" text-anchor="end">2020-04-22</text>
<line x1="258.14" x2="258.14" y1="708.20" y2="711.70" stroke="#e2e2e2" stroke-width="1"/>
<text transform="translate(261.14,721.90) rotate(-50)" font-size="8.6" fill="#666" text-anchor="end">2020-04-29</text>
<line x1="277.60" x2="277.60" y1="708.20" y2="711.70" stroke="#e2e2e2" stroke-width="1"/>
<text transform="translate(280.60,721.90) rotate(-50)" font-size="8.6" fill="#666" text-anchor="end">2020-05-06</text>
<line x1="297.06" x2="297.06" y1="708.20" y2="711.70" stroke="#e2e2e2" stroke-width="1"/>
<text transform="translate(300.06,721.90) rotate(-50)" font-size="8.6" fill="#666" text-anchor="end">2020-05-13</text>
<line x1="316.52" x2="316.52" y1="708.20" y2="711.70" stroke="#e2e2e2" stroke-width="1"/>
<text transform="translate(319.52,721.90) rotate(-50)" font-size="8.6" fill="#666" text-anchor="end">2020-05-20</text>
<line x1="335.98" x2="335.98" y1="708.20" y2="711.70" stroke="#e2e2e2" stroke-width="1"/>
<text transform="translate(338.98,721.90) rotate(-50)" font-size="8.6" fill="#666" text-anchor="end">2020-05-27</text>
<line x1="355.44" x2="355.44" y1="708.20" y2="711.70" stroke="#e2e2e2" stroke-width="1"/>
<text transform="translate(358.44,721.90) rotate(-50)" font-size="8.6" fill="#666" text-anchor="end">2020-06-03</text>
<line x1="374.90" x2="374.90" y1="708.20" y2="711.70" stroke="#e2e2e2" stroke-width="1"/>
<text transform="translate(377.90,721.90) rotate(-50)" font-size="8.6" fill="#666" text-anchor="end">2020-06-10</text>
<line x1="394.36" x2="394.36" y1="708.20" y2="711.70" stroke="#e2e2e2" stroke-width="1"/>
<text transform="translate(397.36,721.90) rotate(-50)" font-size="8.6" fill="#666" text-anchor="end">2020-06-17</text>
<line x1="413.82" x2="413.82" y1="708.20" y2="711.70" stroke="#e2e2e2" stroke-width="1"/>
<text transform="translate(416.82,721.90) rotate(-50)" font-size="8.6" fill="#666" text-anchor="end">2020-06-24</text>
<line x1="433.28" x2="433.28" y1="708.20" y2="711.70" stroke="#e2e2e2" stroke-width="1"/>
<text transform="translate(436.28,721.90) rotate(-50)" font-size="8.6" fill="#666" text-anchor="end">2020-07-01</text>
<line x1="452.74" x2="452.74" y1="708.20" y2="711.70" stroke="#e2e2e2" stroke-width="1"/>
<text transform="translate(455.74,721.90) rotate(-50)" font-size="8.6" fill="#666" text-anchor="end">2020-07-08</text>
<line x1="472.20" x2="472.20" y1="708.20" y2="711.70" stroke="#e2e2e2" stroke-width="1"/>
<text transform="translate(475.20,721.90) rotate(-50)" font-size="8.6" fill="#666" text-anchor="end">2020-07-15</text>
<line x1="491.66" x2="491.66" y1="708.20" y2="711.70" stroke="#e2e2e2" stroke-width="1"/>
<text transform="translate(494.66,721.90) rotate(-50)" font-size="8.6" fill="#666" text-anchor="end">2020-07-22</text>
<line x1="511.12" x2="511.12" y1="708.20" y2="711.70" stroke="#e2e2e2" stroke-width="1"/>
<text transform="translate(514.12,721.90) rotate(-50)" font-size="8.6" fill="#666" text-anchor="end">2020-07-29</text>
<line x1="530.58" x2="530.58" y1="708.20" y2="711.70" stroke="#e2e2e2" stroke-width="1"/>
<text transform="translate(533.58,721.90) rotate(-50)" font-size="8.6" fill="#666" text-anchor="end">2020-08-05</text>
<line x1="550.04" x2="550.04" y1="708.20" y2="711.70" stroke="#e2e2e2" stroke-width="1"/>
<text transform="translate(553.04,721.90) rotate(-50)" font-size="8.6" fill="#666" text-anchor="end">2020-08-12</text>
<line x1="569.50" x2="569.50" y1="708.20" y2="711.70" stroke="#e2e2e2" stroke-width="1"/>
<text transform="translate(572.50,721.90) rotate(-50)" font-size="8.6" fill="#666" text-anchor="end">2020-08-19</text>
<line x1="588.96" x2="588.96" y1="708.20" y2="711.70" stroke="#e2e2e2" stroke-width="1"/>
<text transform="translate(591.96,721.90) rotate(-50)" font-size="8.6" fill="#666" text-anchor="end">2020-08-26</text>
<line x1="608.42" x2="608.42" y1="708.20" y2="711.70" stroke="#e2e2e2" stroke-width="1"/>
<text transform="translate(611.42,721.90) rotate(-50)" font-size="8.6" fill="#666" text-anchor="end">2020-09-02</text>
<line x1="627.88" x2="627.88" y1="708.20" y2="711.70" stroke="#e2e2e2" stroke-width="1"/>
<text transform="translate(630.88,721.90) rotate(-50)" font-size="8.6" fill="#666" text-anchor="end">2020-09-09</text>
<line x1="647.34" x2="647.34" y1="708.20" y2="711.70" stroke="#e2e2e2" stroke-width="1"/>
<text transform="translate(650.34,721.90) rotate(-50)" font-size="8.6" fill="#666" text-anchor="end">2020-09-16</text>
<line x1="666.80" x2="666.80" y1="708.20" y2="711.70" stroke="#e2e2e2" stroke-width="1"/>
<text transform="translate(669.80,721.90) rotate(-50)" font-size="8.6" fill="#666" text-anchor="end">2020-09-23</text>
<line x1="686.26" x2="686.26" y1="708.20" y2="711.70" stroke="#e2e2e2" stroke-width="1"/>
<text transform="translate(689.26,721.90) rotate(-50)" font-size="8.6" fill="#666" text-anchor="end">2020-09-30</text>
<line x1="705.72" x2="705.72" y1="708.20" y2="711.70" stroke="#e2e2e2" stroke-width="1"/>
<text transform="translate(708.72,721.90) rotate(-50)" font-size="8.6" fill="#666" text-anchor="end">2020-10-07</text>
<line x1="725.18" x2="725.18" y1="708.20" y2="711.70" stroke="#e2e2e2" stroke-width="1"/>
<text transform="translate(728.18,721.90) rotate(-50)" font-size="8.6" fill="#666" text-anchor="end">2020-10-14</text>
<line x1="744.64" x2="744.64" y1="708.20" y2="711.70" stroke="#e2e2e2" stroke-width="1"/>
<text transform="translate(747.64,721.90) rotate(-50)" font-size="8.6" fill="#666" text-anchor="end">2020-10-21</text>
<line x1="764.10" x2="764.10" y1="708.20" y2="711.70" stroke="#e2e2e2" stroke-width="1"/>
<text transform="translate(767.10,721.90) rotate(-50)" font-size="8.6" fill="#666" text-anchor="end">2020-10-28</text>
<line x1="783.56" x2="783.56" y1="708.20" y2="711.70" stroke="#e2e2e2" stroke-width="1"/>
<text transform="translate(786.56,721.90) rotate(-50)" font-size="8.6" fill="#666" text-anchor="end">2020-11-04</text>
<line x1="803.02" x2="803.02" y1="708.20" y2="711.70" stroke="#e2e2e2" stroke-width="1"/>
<text transform="translate(806.02,721.90) rotate(-50)" font-size="8.6" fill="#666" text-anchor="end">2020-11-11</text>
<line x1="822.48" x2="822.48" y1="708.20" y2="711.70" stroke="#e2e2e2" stroke-width="1"/>
<text transform="translate(825.48,721.90) rotate(-50)" font-size="8.6" fill="#666" text-anchor="end">2020-11-18</text>
<line x1="841.94" x2="841.94" y1="708.20" y2="711.70" stroke="#e2e2e2" stroke-width="1"/>
<text transform="translate(844.94,721.90) rotate(-50)" font-size="8.6" fill="#666" text-anchor="end">2020-11-25</text>
<line x1="861.40" x2="861.40" y1="708.20" y2="711.70" stroke="#e2e2e2" stroke-width="1"/>
<text transform="translate(864.40,721.90) rotate(-50)" font-size="8.6" fill="#666" text-anchor="end">2020-12-02</text>
<line x1="880.86" x2="880.86" y1="708.20" y2="711.70" stroke="#e2e2e2" stroke-width="1"/>
<text transform="translate(883.86,721.90) rotate(-50)" font-size="8.6" fill="#666" text-anchor="end">2020-12-09</text>
<line x1="900.32" x2="900.32" y1="708.20" y2="711.70" stroke="#e2e2e2" stroke-width="1"/>
<text transform="translate(903.32,721.90) rotate(-50)" font-size="8.6" fill="#666" text-anchor="end">2020-12-16</text>
<line x1="919.78" x2="919.78" y1="708.20" y2="711.70" stroke="#e2e2e2" stroke-width="1"/>
<text transform="translate(922.78,721.90) rotate(-50)" font-size="8.6" fill="#666" text-anchor="end">2020-12-23</text>
<line x1="939.24" x2="939.24" y1="708.20" y2="711.70" stroke="#e2e2e2" stroke-width="1"/>
<text transform="translate(942.24,721.90) rotate(-50)" font-size="8.6" fill="#666" text-anchor="end">2020-12-30</text>
<line x1="958.70" x2="958.70" y1="708.20" y2="711.70" stroke="#e2e2e2" stroke-width="1"/>
<text transform="translate(961.70,721.90) rotate(-50)" font-size="8.6" fill="#666" text-anchor="end">2021-01-06</text>
<line x1="978.16" x2="978.16" y1="708.20" y2="711.70" stroke="#e2e2e2" stroke-width="1"/>
<text transform="translate(981.16,721.90) rotate(-50)" font-size="8.6" fill="#666" text-anchor="end">2021-01-13</text>
<line x1="997.62" x2="997.62" y1="708.20" y2="711.70" stroke="#e2e2e2" stroke-width="1"/>
<text transform="translate(1000.62,721.90) rotate(-50)" font-size="8.6" fill="#666" text-anchor="end">2021-01-20</text>
<line x1="1017.08" x2="1017.08" y1="708.20" y2="711.70" stroke="#e2e2e2" stroke-width="1"/>
<text transform="translate(1020.08,721.90) rotate(-50)" font-size="8.6" fill="#666" text-anchor="end">2021-01-27</text>
<line x1="1036.54" x2="1036.54" y1="708.20" y2="711.70" stroke="#e2e2e2" stroke-width="1"/>
<text transform="translate(1039.54,721.90) rotate(-50)" font-size="8.6" fill="#666" text-anchor="end">2021-02-03</text>
<line x1="1056.00" x2="1056.00" y1="708.20" y2="711.70" stroke="#e2e2e2" stroke-width="1"/>
<text transform="translate(1059.00,721.90) rotate(-50)" font-size="8.6" fill="#666" text-anchor="end">2021-02-10</text>
<line x1="1075.46" x2="1075.46" y1="708.20" y2="711.70" stroke="#e2e2e2" stroke-width="1"/>
<text transform="translate(1078.46,721.90) rotate(-50)" font-size="8.6" fill="#666" text-anchor="end">2021-02-17</text>
<line x1="1094.92" x2="1094.92" y1="708.20" y2="711.70" stroke="#e2e2e2" stroke-width="1"/>
<text transform="translate(1097.92,721.90) rotate(-50)" font-size="8.6" fill="#666" text-anchor="end">2021-02-24</text>
<line x1="1114.38" x2="1114.38" y1="708.20" y2="711.70" stroke="#e2e2e2" stroke-width="1"/>
<text transform="translate(1117.38,721.90) rotate(-50)" font-size="8.6" fill="#666" text-anchor="end">2021-03-03</text>
<line x1="1133.84" x2="1133.84" y1="708.20" y2="711.70" stroke="#e2e2e2" stroke-width="1"/>
<text transform="translate(1136.84,721.90) rotate(-50)" font-size="8.6" fill="#666" text-anchor="end">2021-03-10</text>
<line x1="1153.30" x2="1153.30" y1="708.20" y2="711.70" stroke="#e2e2e2" stroke-width="1"/>
<text transform="translate(1156.30,721.90) rotate(-50)" font-size="8.6" fill="#666" text-anchor="end">2021-03-17</text>
<line x1="1172.76" x2="1172.76" y1="708.20" y2="711.70" stroke="#e2e2e2" stroke-width="1"/>
<text transform="translate(1175.76,721.90) rotate(-50)" font-size="8.6" fill="#666" text-anchor="end">2021-03-24</text>
<line x1="1192.22" x2="1192.22" y1="708.20" y2="711.70" stroke="#e2e2e2" stroke-width="1"/>
<text transform="translate(1195.22,721.90) rotate(-50)" font-size="8.6" fill="#666" text-anchor="end">2021-03-31</text>
<line x1="1211.68" x2="1211.68" y1="708.20" y2="711.70" stroke="#e2e2e2" stroke-width="1"/>
<text transform="translate(1214.68,721.90) rotate(-50)" font-size="8.6" fill="#666" text-anchor="end">2021-04-07</text>
<line x1="1231.14" x2="1231.14" y1="708.20" y2="711.70" stroke="#e2e2e2" stroke-width="1"/>
<text transform="translate(1234.14,721.90) rotate(-50)" font-size="8.6" fill="#666" text-anchor="end">2021-04-14</text>
</svg>
</body></html>
